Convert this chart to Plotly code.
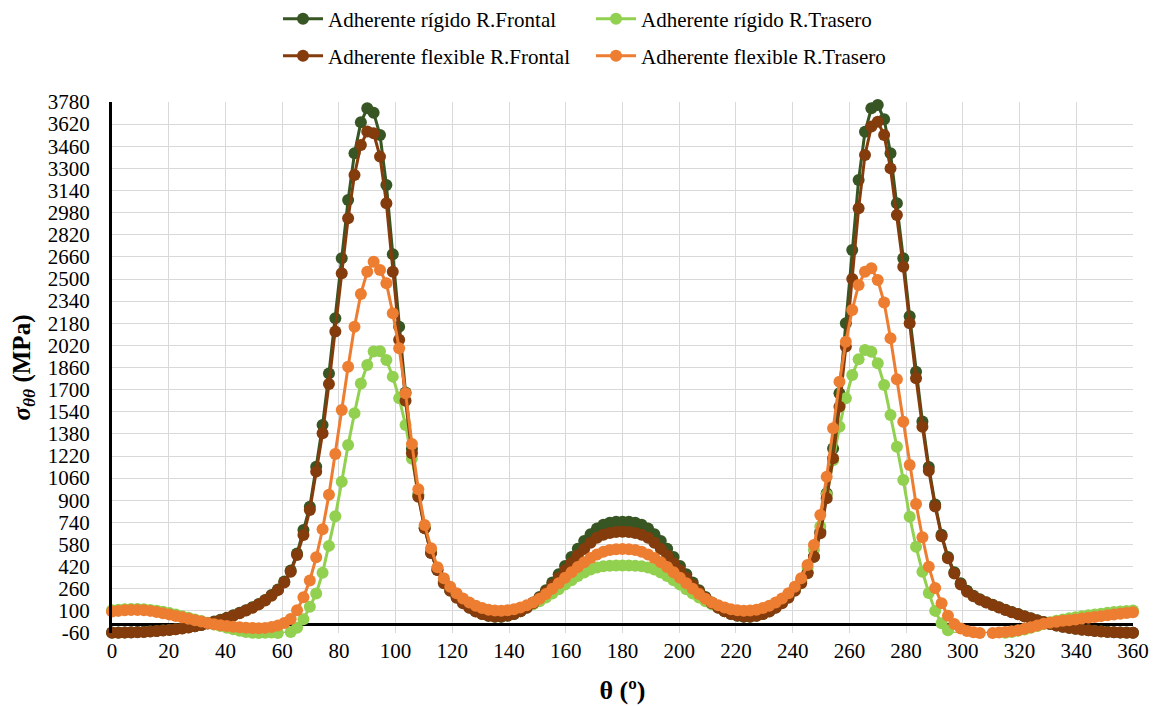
import plotly.graph_objects as go

# Angle (degrees) sampled every 2.25 deg, 0..360
theta = [round(i * 2.25, 2) for i in range(161)]

rigido_frontal = [
    -57, -57, -56, -55, -53, -51, -48, -45, -41, -37,
    -32, -26, -19, -11, -2, 10, 23, 36, 51, 68,
    86, 105, 126, 150, 178, 214, 255, 312, 392, 515,
    685, 853, 1143, 1444, 1817, 2216, 2650, 3071, 3409, 3633,
    3734, 3703, 3541, 3180, 2679, 2155, 1680, 1270, 940, 700,
    520, 395, 310, 250, 200, 160, 125, 98, 78, 65,
    58, 58, 65, 78, 98, 125, 160, 200, 250, 305,
    365, 425, 490, 550, 605, 655, 695, 722, 738, 745,
    745,
    745, 738, 722, 695, 655, 605, 550, 490, 425,
    365, 305, 250, 200, 160, 125, 98, 78, 65, 58,
    58, 65, 78, 98, 125, 160, 200, 250, 310, 380,
    492, 673, 950, 1275, 1673, 2180, 2710, 3216, 3565, 3734,
    3758, 3655, 3409, 3047, 2650, 2230, 1830, 1470, 1140, 870,
    650, 490, 380, 300, 245, 210, 184, 163, 145, 127,
    109, 92, 77, 62, 47, 33, 19, 6, -5, -14,
    -22, -29, -35, -40, -44, -48, -51, -54, -56, -57,
    -58,
]

rigido_trasero = [
    105, 109, 112, 113, 113, 111, 107, 101, 93, 84,
    73, 62, 50, 38, 26, 14, 2, -10, -22, -33,
    -43, -52, -58, -60, -58, -57, -60, -62, -52, -22,
    40, 130, 225, 375, 570, 785, 1034, 1300, 1530, 1745,
    1878, 1975, 1978, 1914, 1794, 1637, 1444, 1200, 940, 710,
    540, 410, 320, 262, 218, 182, 153, 131, 115, 104,
    98, 97, 100, 106, 116, 130, 148, 170, 196, 225,
    257, 290, 322, 352, 378, 400, 414, 422, 426, 428,
    428,
    428, 426, 422, 414, 400, 378, 352, 322, 290,
    257, 225, 196, 170, 148, 130, 116, 106, 100, 97,
    98, 104, 115, 131, 153, 182, 218, 262, 320, 410,
    540, 710, 940, 1190, 1432, 1637, 1806, 1919, 1987, 1974,
    1890, 1734, 1517, 1287, 1046, 781, 564, 383, 230, 100,
    10, -40, -62, -70, -72, -72, -72, -70, -68, -64,
    -58, -52, -44, -34, -22, -9, 5, 18, 29, 38,
    46, 54, 61, 68, 74, 80, 86, 91, 95, 99,
    102,
]

flexible_frontal = [
    -58, -58, -57, -56, -54, -52, -50, -46, -42, -38,
    -33, -27, -20, -12, -3, 8, 20, 33, 48, 65,
    83, 102, 123, 147, 175, 210, 250, 305, 383, 504,
    648, 829, 1107, 1384, 1740, 2120, 2541, 2939, 3252, 3469,
    3566, 3554, 3385, 3047, 2553, 2060, 1620, 1240, 926, 697,
    519, 395, 300, 245, 195, 155, 122, 96, 77, 65,
    60, 60, 66, 78, 97, 122, 155, 193, 238, 288,
    340, 393, 447, 500, 548, 592, 628, 650, 663, 670,
    672,
    670, 663, 650, 628, 592, 548, 500, 447, 393,
    340, 288, 238, 193, 155, 122, 97, 78, 66, 60,
    60, 65, 77, 96, 122, 155, 195, 245, 300, 372,
    492, 661, 914, 1203, 1577, 2011, 2500, 3011, 3397, 3602,
    3638, 3541, 3300, 2963, 2589, 2180, 1782, 1432, 1114, 854,
    640, 480, 370, 290, 238, 205, 180, 160, 142, 124,
    106, 90, 75, 60, 45, 31, 17, 5, -6, -15,
    -23, -30, -36, -41, -45, -49, -52, -55, -57, -58,
    -59,
]

flexible_trasero = [
    95, 100, 104, 106, 106, 104, 100, 92, 83, 73,
    63, 53, 43, 33, 23, 13, 4, -4, -10, -15,
    -19, -22, -24, -25, -23, -17, -5, 12, 42, 105,
    198, 320, 487, 690, 940, 1235, 1553, 1865, 2155, 2392,
    2553, 2625, 2565, 2469, 2252, 1999, 1673, 1307, 979, 721,
    553, 415, 336, 275, 228, 190, 160, 137, 120, 108,
    102, 101, 104, 112, 124, 140, 160, 187, 222, 260,
    300, 340, 380, 418, 452, 483, 508, 527, 540, 546,
    548,
    546, 540, 527, 508, 483, 452, 418, 380, 340,
    300, 260, 222, 187, 160, 140, 124, 112, 104, 101,
    102, 108, 120, 137, 160, 190, 228, 275, 336, 432,
    576, 793, 1070, 1420, 1757, 2047, 2276, 2457, 2553, 2578,
    2493, 2330, 2071, 1775, 1468, 1155, 873, 632, 420, 265,
    155, 65, 5, -28, -45, -55, -60, -62, -60, -56,
    -52, -47, -40, -30, -18, -5, 7, 15, 22, 28,
    33, 38, 44, 50, 56, 62, 68, 74, 80, 85,
    90,
]

series_names = [
    "Adherente rígido R.Frontal",
    "Adherente rígido R.Trasero",
    "Adherente flexible R.Frontal",
    "Adherente flexible R.Trasero",
]
series_values = [rigido_frontal, rigido_trasero, flexible_frontal, flexible_trasero]
series_colors = ["#375623", "#92D050", "#843C0C", "#ED7D31"]
series_legend = ["legend", "legend", "legend2", "legend2"]

# Axis tick labels
y_tick_values = [-60, 100, 260, 420, 580, 740, 900, 1060, 1220, 1380, 1540, 1700,
                 1860, 2020, 2180, 2340, 2500, 2660, 2820, 2980, 3140, 3300,
                 3460, 3620, 3780]
y_tick_labels = [str(v) for v in y_tick_values]
x_tick_values = list(range(0, 361, 20))

FONT = "Liberation Serif, Times New Roman, serif"

W, H = 1151, 698  # page body has an 8px margin

fig = go.Figure()
for name, vals, col, lg in zip(series_names, series_values, series_colors, series_legend):
    fig.add_trace(go.Scatter(
        x=theta, y=vals, name=name, mode="lines+markers",
        line=dict(color=col, width=3),
        marker=dict(color=col, size=12, line=dict(width=0)),
        cliponaxis=False, legend=lg,
    ))

legend_common = dict(
    orientation="h", xref="container", yref="container",
    xanchor="left", yanchor="middle",
    font=dict(family=FONT, size=21, color="black"),
    bgcolor="rgba(0,0,0,0)", entrywidthmode="pixels", entrywidth=258,
    itemwidth=40, tracegroupgap=0,
)

fig.update_layout(
    width=W, height=H,
    margin=dict(l=104, r=26, t=94, b=73),
    paper_bgcolor="white", plot_bgcolor="white",
    font=dict(family=FONT, size=21, color="black"),
    showlegend=True,
    legend=dict(legend_common, x=270 / W, y=1 - 11 / H),
    legend2=dict(legend_common, x=270 / W, y=1 - 48 / H),
    xaxis=dict(
        range=[0, 360], tickmode="array", tickvals=x_tick_values,
        automargin=False,
        showgrid=True, gridcolor="#D9D9D9", gridwidth=1.3,
        zeroline=False, showline=False,
        ticks="", ticklabelstandoff=3,
        tickfont=dict(family=FONT, size=21, color="black"),
        title=dict(text="<b>θ (º)</b>", font=dict(family=FONT, size=26, color="black"), standoff=18),
    ),
    yaxis=dict(
        range=[-60, 3780], tickmode="array", tickvals=y_tick_values, ticktext=y_tick_labels,
        automargin=False,
        showgrid=True, gridcolor="#D9D9D9", gridwidth=1.3,
        zeroline=True, zerolinecolor="black", zerolinewidth=3,
        showline=True, linecolor="black", linewidth=3,
        ticks="outside", ticklen=15, tickcolor="rgba(0,0,0,0)",
        tickfont=dict(family=FONT, size=21, color="black"),
        title=dict(text="<b><i>σ</i><sub><i>θθ</i></sub> (MPa)</b>",
                   font=dict(family=FONT, size=25, color="black"), standoff=12),
    ),
)

fig.write_html("out.html")
